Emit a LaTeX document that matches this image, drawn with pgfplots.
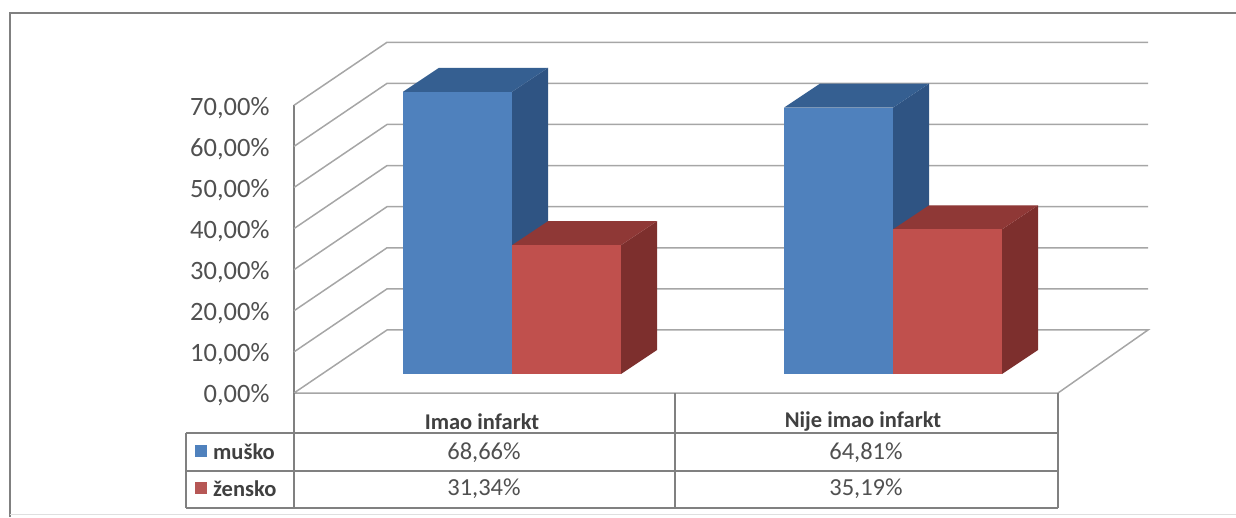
\documentclass[border=0pt]{standalone}
\usepackage{fontspec}
\setmainfont{Carlito}
\usepackage{pgfplots}
\pgfplotsset{compat=1.18}
\definecolor{blueF}{HTML}{4F81BD}
\definecolor{blueT}{HTML}{355F91}
\definecolor{blueS}{HTML}{2F5483}
\definecolor{redF}{HTML}{C0504D}
\definecolor{redT}{HTML}{8F3836}
\definecolor{redS}{HTML}{7D2F2D}
\definecolor{gridc}{HTML}{A6A6A6}
\definecolor{linec}{HTML}{808080}
\definecolor{textc}{HTML}{505050}
\begin{document}
\begin{tikzpicture}
\path[use as bounding box] (-294pt,-124pt) rectangle (942pt,393pt);
\begin{axis}[
    scale only axis,
    width=764pt, height=287.7pt,
    xmin=294, xmax=1058,
    ymin=0, ymax=70,
    clip=false,
    axis x line=none,
    axis y line=left,
    axis line style={-,linec,line width=1.3pt},
    ytick={0,10,20,30,40,50,60,70},
    yticklabels={0{,}00\%,10{,}00\%,20{,}00\%,30{,}00\%,40{,}00\%,50{,}00\%,60{,}00\%,70{,}00\%},
    major tick length=0pt,
    yticklabel style={font=\fontsize{26.5}{28}\selectfont,text=textc,anchor=east,xshift=-21pt,yshift=-2.5pt},
    /pgf/number format/assume math mode=true,
    grid line/.style={gridc,line width=1.5pt,no markers},
    face/.style={draw=none,fill=#1,no markers,yshift=19pt},
]
% frame
\draw[linec,line width=1.8pt] (axis cs:10,-30.17) -- (axis cs:10,92.46) -- (axis cs:1236,92.46);
\draw[gray!25,line width=1pt] (axis cs:10,-29.68) -- (axis cs:1236,-29.68);
% gridlines
\addplot[grid line] coordinates {(294,70) (387,85.33) (1148,85.33)};
\addplot[grid line] coordinates {(294,60) (387,75.33) (1148,75.33)};
\addplot[grid line] coordinates {(294,50) (387,65.33) (1148,65.33)};
\addplot[grid line] coordinates {(294,40) (387,55.33) (1148,55.33)};
\addplot[grid line] coordinates {(294,30) (387,45.33) (1148,45.33)};
\addplot[grid line] coordinates {(294,20) (387,35.33) (1148,35.33)};
\addplot[grid line] coordinates {(294,10) (387,25.33) (1148,25.33)};
\addplot[grid line] coordinates {(294,0) (387,15.33) (1148,15.33) (1058,0) (294,0)};
% bars, first group
\addplot[face=blueS] coordinates {(512,0) (548,5.84) (548,74.50) (512,68.66)};
\addplot[face=blueT] coordinates {(403,68.66) (512,68.66) (548,74.50) (439,74.50)};
\addplot[face=blueF] coordinates {(403,0) (512,0) (512,68.66) (403,68.66)};
\addplot[face=redS] coordinates {(621,0) (657,5.84) (657,37.18) (621,31.34)};
\addplot[face=redT] coordinates {(512,31.34) (621,31.34) (657,37.18) (548,37.18)};
\addplot[face=redF] coordinates {(512,0) (621,0) (621,31.34) (512,31.34)};
% bars, second group
\addplot[face=blueS] coordinates {(893,0) (929,5.84) (929,70.65) (893,64.81)};
\addplot[face=blueT] coordinates {(784,64.81) (893,64.81) (929,70.65) (820,70.65)};
\addplot[face=blueF] coordinates {(784,0) (893,0) (893,64.81) (784,64.81)};
\addplot[face=redS] coordinates {(1002,0) (1038,5.84) (1038,41.03) (1002,35.19)};
\addplot[face=redT] coordinates {(893,35.19) (1002,35.19) (1038,41.03) (929,41.03)};
\addplot[face=redF] coordinates {(893,0) (1002,0) (1002,35.19) (893,35.19)};
% data table
\draw[linec,line width=1.5pt]
    (axis cs:294,0) -- (axis cs:294,-27.98)
    (axis cs:675,0) -- (axis cs:675,-27.98)
    (axis cs:1058,0) -- (axis cs:1058,-27.98)
    (axis cs:186,-9.73) -- (axis cs:186,-27.98)
    (axis cs:186,-9.73) -- (axis cs:1058,-9.73)
    (axis cs:186,-18.98) -- (axis cs:1058,-18.98)
    (axis cs:186,-27.98) -- (axis cs:1058,-27.98);
\addplot[only marks,mark=square*,mark size=5.5pt,mark options={draw=blueF,fill=blueF}] coordinates {(201,-14.1)};
\addplot[only marks,mark=square*,mark size=5.5pt,mark options={draw=redF!85!gray,fill=redF!85!gray}] coordinates {(201,-23.1)};
\tikzset{cell/.style={font=\fontsize{24.5}{26}\selectfont,text=textc,inner sep=0pt},
         head/.style={font=\fontsize{22.5}{24}\selectfont\bfseries,text=black!75,inner sep=0pt}}
\node[head] at (axis cs:482,-7.05) {Imao infarkt};
\node[head] at (axis cs:863,-7.05) {Nije imao infarkt};
\node[cell] at (axis cs:484,-14.6) {68,66\%};
\node[cell] at (axis cs:866,-14.6) {64,81\%};
\node[cell] at (axis cs:484,-23.4) {31,34\%};
\node[cell] at (axis cs:866,-23.4) {35,19\%};
\node[head,anchor=west] at (axis cs:213,-14.3) {muško};
\node[head,anchor=west] at (axis cs:213,-23.3) {žensko};
\end{axis}
\end{tikzpicture}
\end{document}
